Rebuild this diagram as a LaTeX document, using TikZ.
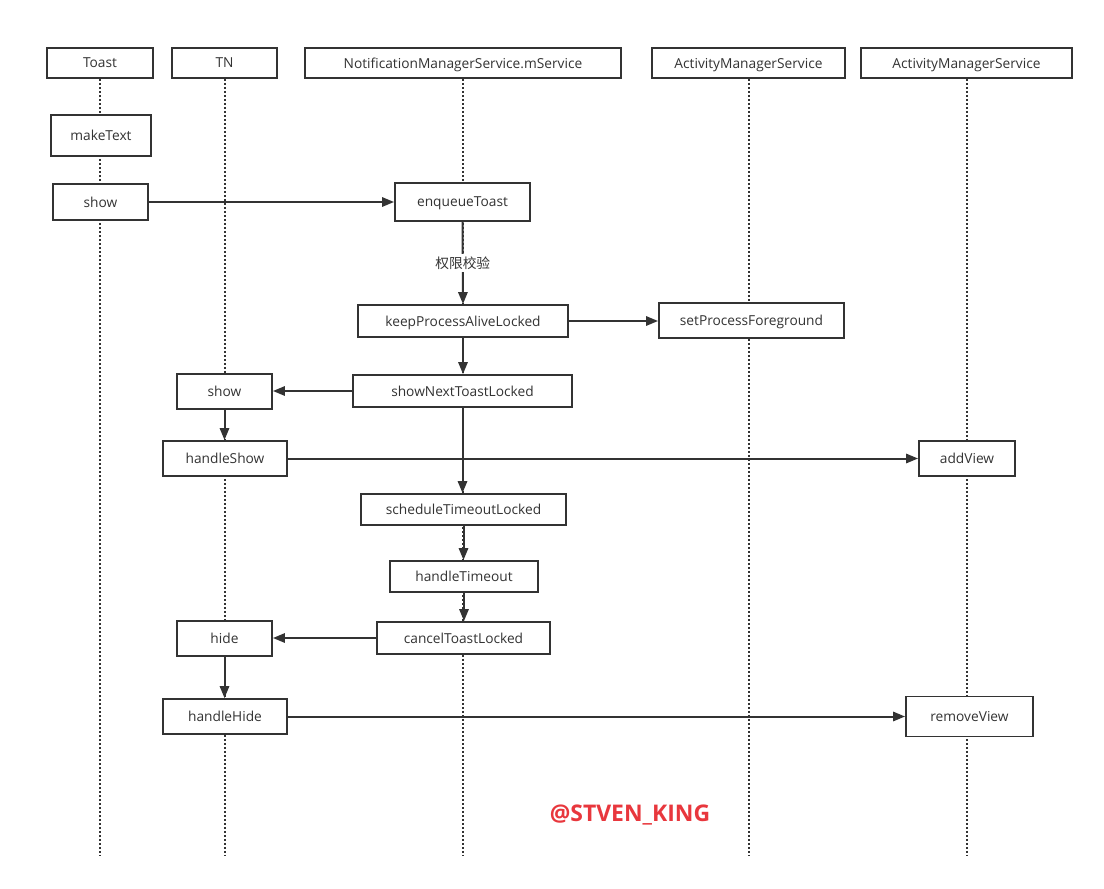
\documentclass[tikz,border=0pt]{standalone}
\usepackage{fontspec}
\setmainfont{Open Sans}
\newfontfamily\cjk{Noto Sans CJK SC}
\usetikzlibrary{arrows.meta}
\definecolor{mLine}{HTML}{333333}
\definecolor{mMark}{HTML}{E8373D}
\tikzset{
  box/.style={draw=mLine, line width=1.4pt, fill=white, inner sep=0pt, text=mLine, text depth=0pt},
  sz/.style 2 args={minimum width=#1*0.75pt, minimum height=#2*0.75pt},
  msg/.style={-{Triangle[length=9pt,width=7pt]}, draw=mLine, line width=1.5pt},
  life/.style={draw=mLine, line width=1.5pt, dash pattern=on 1.5pt off 1.5pt}
}
\begin{document}
\begin{tikzpicture}[x=0.75pt, y=-0.75pt, font=\fontsize{10.3}{12}\selectfont]
\useasboundingbox (0,0) rectangle (1104,889);
% lifeline heads
\node[box, sz={106}{30}] (toast) at (100,63) {Toast};
\node[box, sz={105}{30}] (tn) at (224.5,63) {TN};
\node[box, sz={316}{30}] (nms) at (463,63) {NotificationManagerService.mService};
\node[box, sz={193}{30}] (ams) at (748.5,63) {ActivityManagerService};
\node[box, sz={211}{30}] (wms) at (966.5,63) {ActivityManagerService};
\foreach \h in {toast,tn,nms,ams,wms} {
  \coordinate (\h-end) at (\h.south |- 0,856);
  \draw[life] (\h.south) -- (\h-end);
}
% calls
\node[box, sz={100}{41}] (maketext) at (101,135.5) {makeText};
\node[box, sz={95}{36}] (show) at (100.5,202) {show};
\node[box, sz={135}{38}] (enqueue) at (462.5,202) {enqueueToast};
\node[box, sz={210}{32}] (keepalive) at (463,321) {keepProcessAliveLocked};
\node[box, sz={185}{35}] (foreground) at (751.5,320.5) {setProcessForeground};
\node[box, sz={95}{35}] (tnshow) at (224.5,391.5) {show};
\node[box, sz={219}{32}] (shownext) at (462.5,391) {showNextToastLocked};
\node[box, sz={124}{35}] (handleshow) at (225,458.5) {handleShow};
\node[box, sz={96}{35}] (addview) at (967,458.5) {addView};
\node[box, sz={205}{31}] (schedule) at (463.5,509.5) {scheduleTimeoutLocked};
\node[box, sz={148}{31}] (timeout) at (464,576.5) {handleTimeout};
\node[box, sz={95}{35}] (tnhide) at (224.5,638.5) {hide};
\node[box, sz={173}{32}] (cancel) at (463.5,638) {cancelToastLocked};
\node[box, sz={124}{35}] (handlehide) at (225,716.5) {handleHide};
\node[box, sz={127}{40}] (removeview) at (969.5,716.5) {removeView};
% messages
\draw[msg] (show.east) -- (enqueue.west);
\draw[msg] (enqueue.south) -- node[fill=white, text=mLine, inner sep=2pt] (check) {\cjk 权限校验} (keepalive.north);
\draw[msg] (keepalive.east) -- (keepalive.east -| foreground.west);
\draw[msg] (keepalive.south) -- (keepalive.south |- shownext.north);
\draw[msg] (shownext.west) -- (shownext.west -| tnshow.east);
\draw[msg] (tnshow.south) -- (tnshow.south |- handleshow.north);
\draw[msg] (handleshow.east) -- (handleshow.east -| addview.west);
\draw[msg] (shownext.south) -- (shownext.south |- schedule.north);
\draw[msg] (schedule.south) -- (schedule.south |- timeout.north);
\draw[msg] (timeout.south) -- (timeout.south |- cancel.north);
\draw[msg] (cancel.west) -- (cancel.west -| tnhide.east);
\draw[msg] (tnhide.south) -- (tnhide.south |- handlehide.north);
\draw[msg] (handlehide.east) -- (handlehide.east -| removeview.west);
\node[text=mMark, font=\bfseries\fontsize{17.2}{20}\selectfont] (mark) at (630,815.5) {@STVEN\_KING};
\end{tikzpicture}
\end{document}
